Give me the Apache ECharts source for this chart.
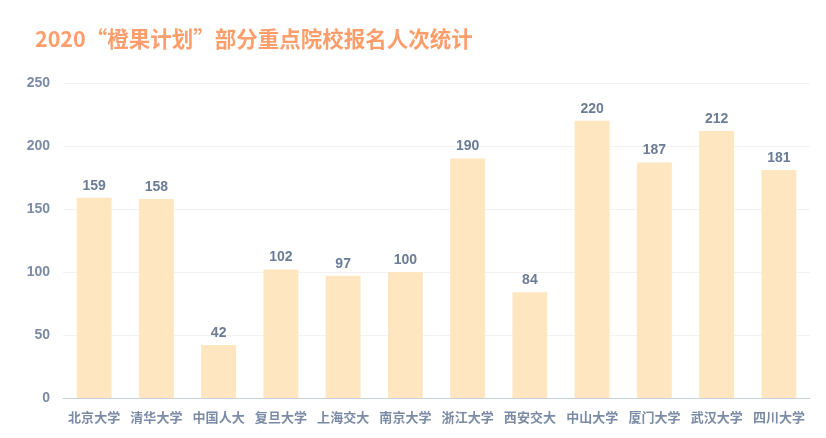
<!DOCTYPE html>
<html><head><meta charset="utf-8">
<script src="https://cdn.jsdelivr.net/npm/echarts@6/dist/echarts.min.js"></script>
<style>html,body{margin:0;padding:0;background:#fff}#c{width:826px;height:438px}</style>
</head><body><div id="c"></div>
<script>
const titleText = '2020“橙果计划”部分重点院校报名人次统计';
const categories = ['北京大学','清华大学','中国人大','复旦大学','上海交大','南京大学','浙江大学','西安交大','中山大学','厦门大学','武汉大学','四川大学'];
const values = [159,158,42,102,97,100,190,84,220,187,212,181];
const yTicks = [0,50,100,150,200,250];

const chart = echarts.init(document.getElementById('c'));
chart.setOption({
  animation: false,
  title: {
    text: titleText, left: 30, top: 23,
    textStyle: {color: '#FF9E6B', fontSize: 21.5, fontWeight: 'bold', fontFamily: 'Noto Sans CJK SC'}
  },
  grid: {left: 63, right: 16, top: 83, bottom: 40},
  xAxis: {
    type: 'category', data: categories,
    axisLine: {lineStyle: {color: '#C8D0DC'}},
    axisTick: {show: false},
    axisLabel: {color: '#7B8BA6', fontSize: 13, fontWeight: 'bold', interval: 0, margin: 13, fontFamily: 'Noto Sans CJK SC'}
  },
  yAxis: {
    type: 'value', min: 0, max: 250, interval: 50,
    axisLine: {show: false}, axisTick: {show: false},
    splitLine: {lineStyle: {color: '#F2F2F2'}},
    axisLabel: {color: '#7B8BA6', fontSize: 14, fontWeight: 'bold', margin: 13, fontFamily: 'Arial'}
  },
  series: [{
    type: 'bar', data: values, barWidth: '56%',
    itemStyle: {color: '#FDE6C0'},
    label: {show: true, position: 'top', color: '#6B7C96', fontSize: 14, fontWeight: 'bold', fontFamily: 'Arial', distance: 5}
  }]
});
</script></body></html>
